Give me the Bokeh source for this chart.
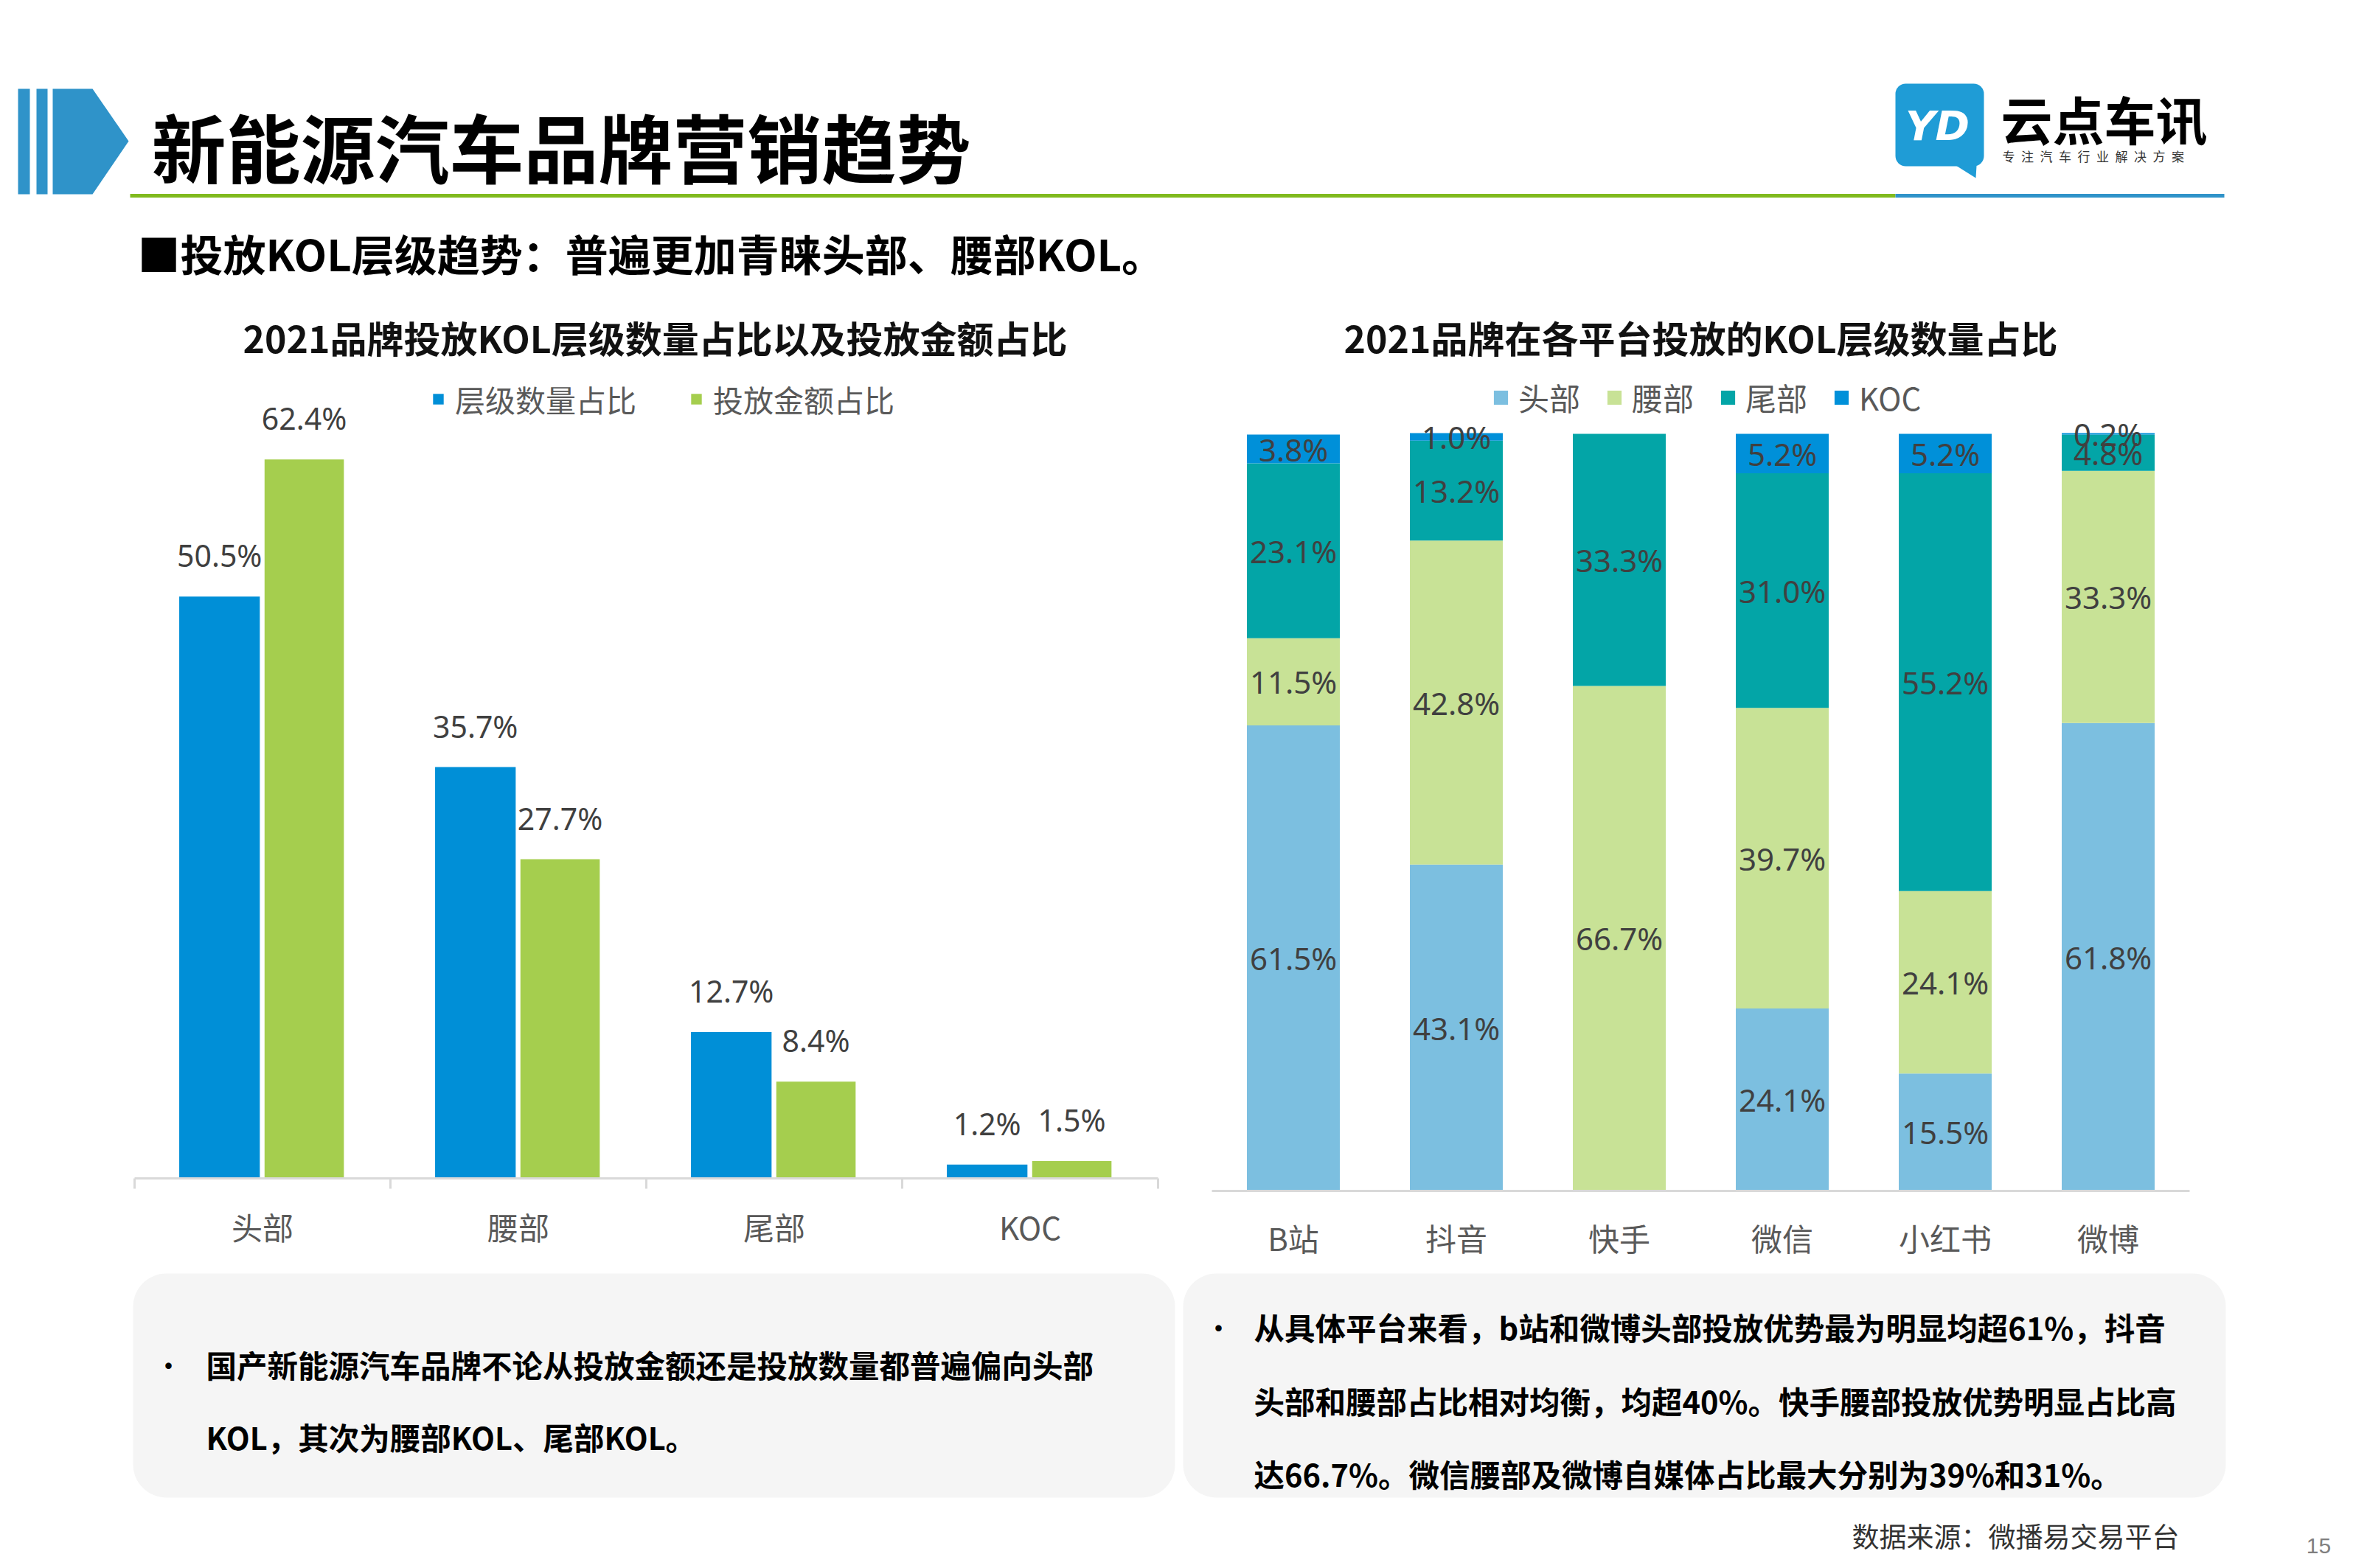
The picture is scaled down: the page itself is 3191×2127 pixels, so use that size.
import numpy as np
from bokeh.plotting import figure
from bokeh.models import (Range1d, FixedTicker, ColumnDataSource, LinearAxis, Legend,
                          LegendItem)
from bokeh.layouts import column
from bokeh.core.properties import value
from bokeh.embed import file_html
from bokeh.resources import INLINE

CJK = "Noto Sans CJK SC"
NUM = "Noto Sans"

# ---------------- data ----------------
kol_levels = ["头部", "腰部", "尾部", "KOC"]
left_series = ["层级数量占比", "投放金额占比"]
count_share = [50.5, 35.7, 12.7, 1.2]
spend_share = [62.4, 27.7, 8.4, 1.5]

platforms = ["B站", "抖音", "快手", "微信", "小红书", "微博"]
head_share = [61.5, 43.1, 0.0, 24.1, 15.5, 61.8]
waist_share = [11.5, 42.8, 66.7, 39.7, 24.1, 33.3]
tail_share = [23.1, 13.2, 33.3, 31.0, 55.2, 4.8]
koc_share = [3.8, 1.0, 0.0, 5.2, 5.2, 0.2]

title_main = "新能源汽车品牌营销趋势"
subtitle = "■投放KOL层级趋势：普遍更加青睐头部、腰部KOL。"
left_title = "2021品牌投放KOL层级数量占比以及投放金额占比"
right_title = "2021品牌在各平台投放的KOL层级数量占比"
left_note = ["国产新能源汽车品牌不论从投放金额还是投放数量都普遍偏向头部",
             "KOL，其次为腰部KOL、尾部KOL。"]
right_note = ["从具体平台来看，b站和微博头部投放优势最为明显均超61%，抖音",
              "头部和腰部占比相对均衡，均超40%。快手腰部投放优势明显占比高",
              "达66.7%。微信腰部及微博自媒体占比最大分别为39%和31%。"]
source_text = "数据来源：微播易交易平台"
page_no = "15"

BLUE = "#2F93C9"
GREEN_LINE = "#80BA1E"
C_COUNT = "#008FD7"
C_SPEND = "#A5CE4E"
C_STACK = ["#7CBFE0", "#C8E296", "#03A5A7", "#0090D9"]
LABEL_C = "#404040"
AXIS_LBL = "#595959"
AXIS_C = "#D9D9D9"

W = 3183
HEAD_H = 500
CHART_H = 1220
FOOT_Y0 = HEAD_H + CHART_H
FOOT_H = 400


def canvas(w, h, x0, x1, y0, y1):
    p = figure(width=w, height=h, x_range=Range1d(x0, x1), y_range=Range1d(y1, y0),
               min_border=0, toolbar_location=None, x_axis_location=None,
               y_axis_location=None, outline_line_color=None, output_backend="svg")
    p.grid.visible = False
    p.background_fill_color = "white"
    p.border_fill_color = "white"
    return p


def span_range(v0, p0, v1, p1, total):
    """Range whose value v0 sits at pixel p0 and v1 at pixel p1 of a frame `total` px long."""
    k = (v1 - v0) / (p1 - p0)
    return Range1d(v0 - p0 * k, v0 + (total - p0) * k)


# ---------------- header ----------------
hd = canvas(W, HEAD_H, 0, W, 0, HEAD_H)
hd.quad(left=[24, 49], right=[40, 64], top=[120, 120], bottom=[263, 263],
        fill_color=BLUE, line_color=None)
hd.patch(x=[71, 125, 174, 125, 71], y=[120, 120, 191, 263, 263], fill_color=BLUE, line_color=None)
hd.text(x=[205], y=[196], text=[title_main], text_font=value(CJK), text_font_style="bold",
        text_font_size="101px", text_color="#000000", text_baseline="middle", text_align="left")
hd.segment(x0=[176], y0=[265], x1=[2570], y1=[265], line_color=GREEN_LINE, line_width=5)
hd.segment(x0=[2570], y0=[265], x1=[3016], y1=[265], line_color=BLUE, line_width=5)
hd.quad(left=[2570], right=[2690], top=[113], bottom=[225], fill_color="#1F9CD6",
        line_color=None, border_radius=14)
hd.patch(x=[2652, 2680, 2679], y=[224, 224, 241], fill_color="#1F9CD6", line_color=None)
hd.text(x=[2627], y=[170], text=["YD"], text_font=value("DejaVu Sans"), text_font_style="bold italic",
        text_font_size="56px", text_color="white", text_baseline="middle", text_align="center")
hd.text(x=[2713], y=[160], text=["云点车讯"], text_font=value(CJK), text_font_style="bold",
        text_font_size="70px", text_color="#000000", text_baseline="middle", text_align="left")
hd.text(x=[2715], y=[211], text=["\u2002".join("专注汽车行业解决方案")], text_font=value(CJK),
        text_font_size="17px", text_color="#333333", text_baseline="middle", text_align="left")
hd.text(x=[186], y=[342], text=[subtitle], text_font=value(CJK), text_font_style="bold",
        text_font_size="58px", text_color="#000000", text_baseline="middle", text_align="left")
hd.text(x=[888, 2306], y=[456, 456], text=[left_title, right_title], text_font=value(CJK),
        text_font_style="bold", text_font_size="50px", text_color="#111111",
        text_baseline="middle", text_align="center")

# ---------------- charts (one canvas, two coordinate systems) ----------------
nl = len(kol_levels)
nr = len(platforms)
# left chart: categories span px 182..1570, baseline 122 px above bottom, 15.63 px per %
lx = span_range(-0.5, 182, nl - 0.5, 1570, W)
ly = span_range(0, 122, 100, 122 + 1563, CHART_H)
# right chart: categories span px 1643..2969, baseline 105 px above bottom, 10.27 px per %
rx = span_range(-0.5, 1643, nr - 0.5, 2969, W)
ry = span_range(0, 105, 100, 105 + 1027, CHART_H)

pc = figure(width=W, height=CHART_H, x_range=lx, y_range=ly, min_border=0,
            x_axis_location=None, y_axis_location=None, toolbar_location=None,
            outline_line_color=None, output_backend="svg")
pc.extra_x_ranges = {"rx": rx}
pc.extra_y_ranges = {"ry": ry}
pc.grid.visible = False
pc.background_fill_color = "white"
pc.border_fill_color = "white"

# --- left chart
xl = np.arange(nl)
src_l = ColumnDataSource(dict(
    xc=xl - 0.168, xs=xl + 0.163, count=count_share, spend=spend_share,
    tc=[f"{v:.1f}%" for v in count_share], ts=[f"{v:.1f}%" for v in spend_share]))
r_cnt = pc.vbar(x="xc", top="count", width=0.315, source=src_l, fill_color=C_COUNT,
                line_color=None)
r_spd = pc.vbar(x="xs", top="spend", width=0.31, source=src_l, fill_color=C_SPEND,
                line_color=None)
for xcol, ycol, tcol in (("xc", "count", "tc"), ("xs", "spend", "ts")):
    pc.text(x=xcol, y=ycol, text=tcol, source=src_l, text_font=value(NUM),
            text_font_size="41px", text_color=LABEL_C, text_align="center",
            text_baseline="middle", y_offset=-56)
axl = LinearAxis(fixed_location=0, bounds=(-0.5, nl - 0.5),
                 ticker=FixedTicker(ticks=[float(v) for v in xl],
                                    minor_ticks=[v - 0.5 for v in range(nl + 1)]))
axl.major_label_overrides = {int(i): c for i, c in enumerate(kol_levels)}
axl.major_tick_line_color = None
axl.major_tick_out = 0
axl.major_tick_in = 0
axl.minor_tick_line_color = AXIS_C
axl.minor_tick_line_width = 3
axl.minor_tick_out = 14
axl.minor_tick_in = 0
axl.axis_line_color = AXIS_C
axl.axis_line_width = 3
axl.major_label_text_font = CJK
axl.major_label_text_font_size = "42px"
axl.major_label_text_color = AXIS_LBL
axl.major_label_standoff = 20
pc.add_layout(axl, "below")

leg_l = Legend(items=[LegendItem(label=left_series[0], renderers=[r_cnt]),
                      LegendItem(label=left_series[1], renderers=[r_spd])],
               location=(585, 1149), orientation="horizontal", glyph_width=18,
               glyph_height=18, label_standoff=14, spacing=72, padding=0, margin=0,
               border_line_color=None, background_fill_alpha=0, label_text_font=CJK,
               label_text_font_size="41px", label_text_color=AXIS_LBL)
pc.add_layout(leg_l, "center")

# --- right chart
xr = np.arange(nr)
stack_cols = ["head", "waist", "tail", "koc"]
layers = [head_share, waist_share, tail_share, koc_share]
src_r = ColumnDataSource(dict(x=xr, head=head_share, waist=waist_share,
                              tail=tail_share, koc=koc_share))
r_stack = pc.vbar_stack(stack_cols, x="x", width=0.57, color=C_STACK, line_color=None,
                        source=src_r, x_range_name="rx", y_range_name="ry")
bottoms = np.zeros(nr)
for vals in layers:
    v = np.array(vals, dtype=float)
    mids = bottoms + v / 2
    keep = v > 0
    pc.text(x=list(xr[keep].astype(float)), y=list(mids[keep]),
            text=[f"{x:.1f}%" for x in v[keep]], text_font=value(NUM),
            text_font_size="42px", text_color=LABEL_C, text_align="center",
            text_baseline="middle", x_range_name="rx", y_range_name="ry")
    bottoms = bottoms + v
axr = LinearAxis(x_range_name="rx", y_range_name="ry", fixed_location=0,
                 bounds=(-0.5, nr - 0.5), ticker=FixedTicker(ticks=[float(v) for v in xr]))
axr.major_label_overrides = {int(i): c for i, c in enumerate(platforms)}
axr.major_tick_line_color = None
axr.major_tick_out = 0
axr.major_tick_in = 0
axr.minor_tick_line_color = None
axr.minor_tick_out = 0
axr.minor_tick_in = 0
axr.axis_line_color = AXIS_C
axr.axis_line_width = 3
axr.major_label_text_font = CJK
axr.major_label_text_font_size = "42px"
axr.major_label_text_color = AXIS_LBL
axr.major_label_standoff = 32
pc.add_layout(axr, "below")

leg_r = Legend(items=[LegendItem(label=lbl, renderers=[r]) for lbl, r in zip(kol_levels, r_stack)],
               location=(2023, 1151), orientation="horizontal", glyph_width=24,
               glyph_height=24, label_standoff=12, spacing=34, padding=0, margin=0,
               border_line_color=None, background_fill_alpha=0, label_text_font=CJK,
               label_text_font_size="42px", label_text_color=AXIS_LBL)
pc.add_layout(leg_r, "center")

# ---------------- footer ----------------
ft = canvas(W, FOOT_H, 0, W, FOOT_Y0, FOOT_Y0 + FOOT_H)
ft.quad(left=[180, 1604], right=[1593, 3018], top=[1727, 1727], bottom=[2031, 2031],
        fill_color="#F5F5F5", line_color=None, border_radius=45)
ft.text(x=[228, 1652], y=[1850, 1799], text=["•", "•"], text_font=value(CJK),
        text_font_size="40px", text_color="#000000", text_align="center", text_baseline="middle")
ft.text(x=[279] * len(left_note), y=[1850, 1948][:len(left_note)], text=left_note,
        text_font=value(CJK), text_font_style="bold", text_font_size="41.5px",
        text_color="#000000", text_align="left", text_baseline="middle")
ft.text(x=[1700] * len(right_note), y=[1799, 1899, 1998][:len(right_note)], text=right_note,
        text_font=value(CJK), text_font_style="bold", text_font_size="41.5px",
        text_color="#000000", text_align="left", text_baseline="middle")
ft.text(x=[2955], y=[2082], text=[source_text], text_font=value(CJK), text_font_size="37px",
        text_color="#333333", text_align="right", text_baseline="middle")
ft.text(x=[3144], y=[2096], text=[page_no], text_font=value("Liberation Sans"),
        text_font_size="30px", text_color="#7F7F7F", text_align="center", text_baseline="middle")

layout = column(hd, pc, ft, spacing=0)
open("out.html", "w").write(file_html(layout, INLINE))
